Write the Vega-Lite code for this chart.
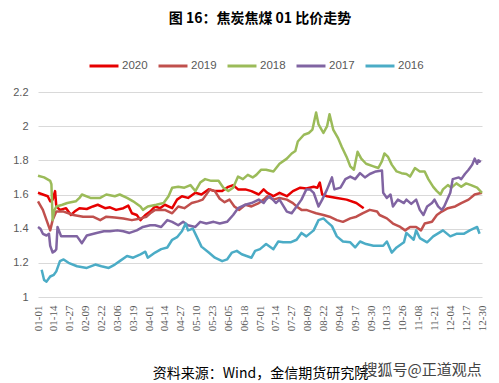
{
  "$schema": "https://vega.github.io/schema/vega-lite/v6.json",
  "width": 444,
  "height": 205,
  "autosize": {"type": "none"},
  "padding": {"left": 38, "top": 92, "right": 17, "bottom": 86},
  "background": "white",
  "title": {
    "text": "图 16：焦炭焦煤 01 比价走势",
    "font": "Noto Sans CJK SC",
    "fontSize": 14,
    "fontWeight": "bold",
    "color": "#000000",
    "anchor": "middle",
    "frame": "group",
    "offset": 24
  },
  "data": {
    "values": [
      {"s":"2020","d":0,"v":1.61},{"s":"2020","d":4,"v":1.60},{"s":"2020","d":8,"v":1.59},{"s":"2020","d":10,"v":1.56},{"s":"2020","d":12,"v":1.57},{"s":"2020","d":14,"v":1.62},{"s":"2020","d":15,"v":1.53},{"s":"2020","d":18,"v":1.51},{"s":"2020","d":23,"v":1.52},{"s":"2020","d":27,"v":1.48},{"s":"2020","d":30,"v":1.50},{"s":"2020","d":34,"v":1.52},{"s":"2020","d":40,"v":1.515},{"s":"2020","d":45,"v":1.53},{"s":"2020","d":49,"v":1.54},{"s":"2020","d":55,"v":1.52},{"s":"2020","d":59,"v":1.525},{"s":"2020","d":64,"v":1.51},{"s":"2020","d":70,"v":1.52},{"s":"2020","d":74,"v":1.535},{"s":"2020","d":77,"v":1.49},{"s":"2020","d":81,"v":1.48},{"s":"2020","d":84,"v":1.45},{"s":"2020","d":88,"v":1.48},{"s":"2020","d":92,"v":1.50},{"s":"2020","d":96,"v":1.53},{"s":"2020","d":100,"v":1.52},{"s":"2020","d":104,"v":1.54},{"s":"2020","d":110,"v":1.52},{"s":"2020","d":114,"v":1.57},{"s":"2020","d":118,"v":1.59},{"s":"2020","d":123,"v":1.58},{"s":"2020","d":129,"v":1.61},{"s":"2020","d":134,"v":1.60},{"s":"2020","d":140,"v":1.63},{"s":"2020","d":145,"v":1.62},{"s":"2020","d":151,"v":1.62},{"s":"2020","d":156,"v":1.645},{"s":"2020","d":160,"v":1.655},{"s":"2020","d":164,"v":1.63},{"s":"2020","d":170,"v":1.63},{"s":"2020","d":175,"v":1.62},{"s":"2020","d":181,"v":1.60},{"s":"2020","d":185,"v":1.63},{"s":"2020","d":188,"v":1.61},{"s":"2020","d":193,"v":1.59},{"s":"2020","d":198,"v":1.61},{"s":"2020","d":204,"v":1.59},{"s":"2020","d":209,"v":1.62},{"s":"2020","d":215,"v":1.64},{"s":"2020","d":220,"v":1.635},{"s":"2020","d":226,"v":1.645},{"s":"2020","d":229,"v":1.64},{"s":"2020","d":231,"v":1.67},{"s":"2020","d":233,"v":1.60},{"s":"2020","d":237,"v":1.59},{"s":"2020","d":245,"v":1.58},{"s":"2020","d":253,"v":1.57},{"s":"2020","d":261,"v":1.55},{"s":"2020","d":267,"v":1.52},
      {"s":"2019","d":0,"v":1.56},{"s":"2019","d":4,"v":1.51},{"s":"2019","d":7,"v":1.45},{"s":"2019","d":10,"v":1.39},{"s":"2019","d":12,"v":1.45},{"s":"2019","d":15,"v":1.50},{"s":"2019","d":21,"v":1.50},{"s":"2019","d":25,"v":1.49},{"s":"2019","d":29,"v":1.48},{"s":"2019","d":37,"v":1.47},{"s":"2019","d":45,"v":1.47},{"s":"2019","d":51,"v":1.45},{"s":"2019","d":56,"v":1.47},{"s":"2019","d":63,"v":1.465},{"s":"2019","d":70,"v":1.46},{"s":"2019","d":77,"v":1.45},{"s":"2019","d":84,"v":1.46},{"s":"2019","d":89,"v":1.47},{"s":"2019","d":92,"v":1.49},{"s":"2019","d":96,"v":1.51},{"s":"2019","d":104,"v":1.51},{"s":"2019","d":110,"v":1.49},{"s":"2019","d":115,"v":1.53},{"s":"2019","d":120,"v":1.52},{"s":"2019","d":126,"v":1.55},{"s":"2019","d":131,"v":1.56},{"s":"2019","d":135,"v":1.57},{"s":"2019","d":141,"v":1.63},{"s":"2019","d":145,"v":1.62},{"s":"2019","d":149,"v":1.575},{"s":"2019","d":153,"v":1.555},{"s":"2019","d":157,"v":1.57},{"s":"2019","d":161,"v":1.53},{"s":"2019","d":165,"v":1.51},{"s":"2019","d":170,"v":1.54},{"s":"2019","d":175,"v":1.53},{"s":"2019","d":181,"v":1.55},{"s":"2019","d":185,"v":1.57},{"s":"2019","d":188,"v":1.59},{"s":"2019","d":193,"v":1.57},{"s":"2019","d":198,"v":1.58},{"s":"2019","d":204,"v":1.57},{"s":"2019","d":209,"v":1.55},{"s":"2019","d":212,"v":1.53},{"s":"2019","d":216,"v":1.51},{"s":"2019","d":220,"v":1.51},{"s":"2019","d":224,"v":1.50},{"s":"2019","d":228,"v":1.49},{"s":"2019","d":234,"v":1.48},{"s":"2019","d":239,"v":1.47},{"s":"2019","d":245,"v":1.45},{"s":"2019","d":250,"v":1.44},{"s":"2019","d":256,"v":1.46},{"s":"2019","d":261,"v":1.47},{"s":"2019","d":266,"v":1.49},{"s":"2019","d":272,"v":1.51},{"s":"2019","d":278,"v":1.50},{"s":"2019","d":280,"v":1.48},{"s":"2019","d":286,"v":1.46},{"s":"2019","d":291,"v":1.43},{"s":"2019","d":297,"v":1.41},{"s":"2019","d":301,"v":1.39},{"s":"2019","d":305,"v":1.41},{"s":"2019","d":310,"v":1.41},{"s":"2019","d":314,"v":1.39},{"s":"2019","d":317,"v":1.43},{"s":"2019","d":323,"v":1.44},{"s":"2019","d":327,"v":1.48},{"s":"2019","d":331,"v":1.50},{"s":"2019","d":336,"v":1.52},{"s":"2019","d":342,"v":1.53},{"s":"2019","d":347,"v":1.55},{"s":"2019","d":353,"v":1.57},{"s":"2019","d":358,"v":1.60},{"s":"2019","d":364,"v":1.61},
      {"s":"2018","d":0,"v":1.71},{"s":"2018","d":5,"v":1.70},{"s":"2018","d":10,"v":1.68},{"s":"2018","d":11,"v":1.66},{"s":"2018","d":12,"v":1.45},{"s":"2018","d":13,"v":1.50},{"s":"2018","d":15,"v":1.53},{"s":"2018","d":20,"v":1.54},{"s":"2018","d":24,"v":1.55},{"s":"2018","d":31,"v":1.56},{"s":"2018","d":34,"v":1.58},{"s":"2018","d":36,"v":1.60},{"s":"2018","d":43,"v":1.58},{"s":"2018","d":51,"v":1.58},{"s":"2018","d":56,"v":1.60},{"s":"2018","d":63,"v":1.59},{"s":"2018","d":67,"v":1.60},{"s":"2018","d":73,"v":1.58},{"s":"2018","d":78,"v":1.56},{"s":"2018","d":84,"v":1.53},{"s":"2018","d":86,"v":1.51},{"s":"2018","d":90,"v":1.53},{"s":"2018","d":97,"v":1.54},{"s":"2018","d":103,"v":1.55},{"s":"2018","d":107,"v":1.59},{"s":"2018","d":110,"v":1.64},{"s":"2018","d":115,"v":1.645},{"s":"2018","d":120,"v":1.64},{"s":"2018","d":125,"v":1.655},{"s":"2018","d":129,"v":1.62},{"s":"2018","d":133,"v":1.67},{"s":"2018","d":137,"v":1.69},{"s":"2018","d":142,"v":1.68},{"s":"2018","d":148,"v":1.68},{"s":"2018","d":152,"v":1.64},{"s":"2018","d":156,"v":1.62},{"s":"2018","d":160,"v":1.64},{"s":"2018","d":164,"v":1.705},{"s":"2018","d":168,"v":1.69},{"s":"2018","d":172,"v":1.715},{"s":"2018","d":176,"v":1.70},{"s":"2018","d":179,"v":1.715},{"s":"2018","d":183,"v":1.745},{"s":"2018","d":187,"v":1.745},{"s":"2018","d":193,"v":1.735},{"s":"2018","d":198,"v":1.78},{"s":"2018","d":204,"v":1.81},{"s":"2018","d":208,"v":1.84},{"s":"2018","d":211,"v":1.855},{"s":"2018","d":213,"v":1.91},{"s":"2018","d":218,"v":1.95},{"s":"2018","d":222,"v":1.96},{"s":"2018","d":225,"v":1.98},{"s":"2018","d":228,"v":2.08},{"s":"2018","d":230,"v":2.01},{"s":"2018","d":234,"v":1.96},{"s":"2018","d":237,"v":2.00},{"s":"2018","d":239,"v":2.07},{"s":"2018","d":242,"v":1.98},{"s":"2018","d":246,"v":1.93},{"s":"2018","d":249,"v":1.88},{"s":"2018","d":253,"v":1.82},{"s":"2018","d":256,"v":1.765},{"s":"2018","d":259,"v":1.745},{"s":"2018","d":262,"v":1.85},{"s":"2018","d":265,"v":1.81},{"s":"2018","d":269,"v":1.78},{"s":"2018","d":275,"v":1.765},{"s":"2018","d":279,"v":1.755},{"s":"2018","d":282,"v":1.795},{"s":"2018","d":284,"v":1.84},{"s":"2018","d":287,"v":1.82},{"s":"2018","d":290,"v":1.775},{"s":"2018","d":294,"v":1.735},{"s":"2018","d":298,"v":1.725},{"s":"2018","d":302,"v":1.72},{"s":"2018","d":305,"v":1.705},{"s":"2018","d":309,"v":1.755},{"s":"2018","d":313,"v":1.735},{"s":"2018","d":317,"v":1.735},{"s":"2018","d":320,"v":1.69},{"s":"2018","d":324,"v":1.645},{"s":"2018","d":327,"v":1.62},{"s":"2018","d":330,"v":1.60},{"s":"2018","d":332,"v":1.63},{"s":"2018","d":336,"v":1.655},{"s":"2018","d":339,"v":1.64},{"s":"2018","d":343,"v":1.665},{"s":"2018","d":347,"v":1.645},{"s":"2018","d":351,"v":1.665},{"s":"2018","d":355,"v":1.655},{"s":"2018","d":360,"v":1.64},{"s":"2018","d":364,"v":1.61},
      {"s":"2017","d":0,"v":1.41},{"s":"2017","d":2,"v":1.40},{"s":"2017","d":4,"v":1.37},{"s":"2017","d":7,"v":1.36},{"s":"2017","d":9,"v":1.37},{"s":"2017","d":10,"v":1.30},{"s":"2017","d":12,"v":1.26},{"s":"2017","d":14,"v":1.27},{"s":"2017","d":15,"v":1.28},{"s":"2017","d":16,"v":1.41},{"s":"2017","d":19,"v":1.355},{"s":"2017","d":26,"v":1.355},{"s":"2017","d":32,"v":1.355},{"s":"2017","d":36,"v":1.315},{"s":"2017","d":40,"v":1.36},{"s":"2017","d":48,"v":1.375},{"s":"2017","d":54,"v":1.385},{"s":"2017","d":59,"v":1.385},{"s":"2017","d":65,"v":1.39},{"s":"2017","d":70,"v":1.385},{"s":"2017","d":75,"v":1.375},{"s":"2017","d":81,"v":1.39},{"s":"2017","d":86,"v":1.41},{"s":"2017","d":92,"v":1.42},{"s":"2017","d":96,"v":1.42},{"s":"2017","d":101,"v":1.41},{"s":"2017","d":106,"v":1.45},{"s":"2017","d":110,"v":1.44},{"s":"2017","d":115,"v":1.42},{"s":"2017","d":119,"v":1.44},{"s":"2017","d":123,"v":1.42},{"s":"2017","d":129,"v":1.41},{"s":"2017","d":133,"v":1.44},{"s":"2017","d":138,"v":1.43},{"s":"2017","d":144,"v":1.44},{"s":"2017","d":149,"v":1.43},{"s":"2017","d":155,"v":1.44},{"s":"2017","d":160,"v":1.48},{"s":"2017","d":164,"v":1.52},{"s":"2017","d":170,"v":1.54},{"s":"2017","d":175,"v":1.55},{"s":"2017","d":181,"v":1.57},{"s":"2017","d":185,"v":1.55},{"s":"2017","d":187,"v":1.57},{"s":"2017","d":190,"v":1.59},{"s":"2017","d":195,"v":1.55},{"s":"2017","d":198,"v":1.57},{"s":"2017","d":204,"v":1.50},{"s":"2017","d":208,"v":1.49},{"s":"2017","d":212,"v":1.53},{"s":"2017","d":216,"v":1.57},{"s":"2017","d":220,"v":1.63},{"s":"2017","d":223,"v":1.63},{"s":"2017","d":226,"v":1.61},{"s":"2017","d":230,"v":1.53},{"s":"2017","d":233,"v":1.57},{"s":"2017","d":237,"v":1.63},{"s":"2017","d":241,"v":1.70},{"s":"2017","d":243,"v":1.63},{"s":"2017","d":248,"v":1.64},{"s":"2017","d":252,"v":1.69},{"s":"2017","d":256,"v":1.705},{"s":"2017","d":260,"v":1.69},{"s":"2017","d":264,"v":1.725},{"s":"2017","d":268,"v":1.70},{"s":"2017","d":272,"v":1.72},{"s":"2017","d":277,"v":1.735},{"s":"2017","d":282,"v":1.74},{"s":"2017","d":283,"v":1.61},{"s":"2017","d":286,"v":1.58},{"s":"2017","d":289,"v":1.60},{"s":"2017","d":291,"v":1.53},{"s":"2017","d":295,"v":1.57},{"s":"2017","d":300,"v":1.55},{"s":"2017","d":302,"v":1.57},{"s":"2017","d":306,"v":1.545},{"s":"2017","d":310,"v":1.57},{"s":"2017","d":313,"v":1.51},{"s":"2017","d":316,"v":1.48},{"s":"2017","d":319,"v":1.53},{"s":"2017","d":323,"v":1.55},{"s":"2017","d":325,"v":1.57},{"s":"2017","d":328,"v":1.53},{"s":"2017","d":331,"v":1.51},{"s":"2017","d":333,"v":1.53},{"s":"2017","d":338,"v":1.61},{"s":"2017","d":340,"v":1.69},{"s":"2017","d":345,"v":1.70},{"s":"2017","d":347,"v":1.69},{"s":"2017","d":350,"v":1.72},{"s":"2017","d":353,"v":1.745},{"s":"2017","d":356,"v":1.775},{"s":"2017","d":358,"v":1.81},{"s":"2017","d":360,"v":1.78},{"s":"2017","d":361,"v":1.80},{"s":"2017","d":363,"v":1.79},
      {"s":"2016","d":3,"v":1.16},{"s":"2016","d":5,"v":1.10},{"s":"2016","d":7,"v":1.09},{"s":"2016","d":10,"v":1.12},{"s":"2016","d":13,"v":1.13},{"s":"2016","d":15,"v":1.15},{"s":"2016","d":18,"v":1.21},{"s":"2016","d":21,"v":1.22},{"s":"2016","d":25,"v":1.20},{"s":"2016","d":32,"v":1.18},{"s":"2016","d":40,"v":1.17},{"s":"2016","d":47,"v":1.19},{"s":"2016","d":52,"v":1.18},{"s":"2016","d":58,"v":1.17},{"s":"2016","d":63,"v":1.19},{"s":"2016","d":67,"v":1.21},{"s":"2016","d":73,"v":1.24},{"s":"2016","d":78,"v":1.23},{"s":"2016","d":84,"v":1.25},{"s":"2016","d":88,"v":1.265},{"s":"2016","d":90,"v":1.23},{"s":"2016","d":92,"v":1.24},{"s":"2016","d":96,"v":1.26},{"s":"2016","d":101,"v":1.28},{"s":"2016","d":106,"v":1.29},{"s":"2016","d":110,"v":1.335},{"s":"2016","d":114,"v":1.35},{"s":"2016","d":118,"v":1.385},{"s":"2016","d":121,"v":1.43},{"s":"2016","d":123,"v":1.39},{"s":"2016","d":127,"v":1.40},{"s":"2016","d":130,"v":1.355},{"s":"2016","d":134,"v":1.295},{"s":"2016","d":140,"v":1.26},{"s":"2016","d":145,"v":1.23},{"s":"2016","d":151,"v":1.21},{"s":"2016","d":155,"v":1.22},{"s":"2016","d":159,"v":1.26},{"s":"2016","d":163,"v":1.27},{"s":"2016","d":167,"v":1.25},{"s":"2016","d":171,"v":1.24},{"s":"2016","d":175,"v":1.23},{"s":"2016","d":178,"v":1.27},{"s":"2016","d":182,"v":1.28},{"s":"2016","d":187,"v":1.31},{"s":"2016","d":193,"v":1.28},{"s":"2016","d":197,"v":1.325},{"s":"2016","d":201,"v":1.32},{"s":"2016","d":207,"v":1.32},{"s":"2016","d":212,"v":1.335},{"s":"2016","d":216,"v":1.375},{"s":"2016","d":220,"v":1.355},{"s":"2016","d":226,"v":1.39},{"s":"2016","d":230,"v":1.45},{"s":"2016","d":234,"v":1.46},{"s":"2016","d":237,"v":1.44},{"s":"2016","d":241,"v":1.415},{"s":"2016","d":245,"v":1.355},{"s":"2016","d":250,"v":1.325},{"s":"2016","d":256,"v":1.32},{"s":"2016","d":260,"v":1.29},{"s":"2016","d":264,"v":1.325},{"s":"2016","d":269,"v":1.31},{"s":"2016","d":275,"v":1.30},{"s":"2016","d":283,"v":1.30},{"s":"2016","d":286,"v":1.325},{"s":"2016","d":290,"v":1.26},{"s":"2016","d":294,"v":1.29},{"s":"2016","d":300,"v":1.32},{"s":"2016","d":302,"v":1.375},{"s":"2016","d":308,"v":1.335},{"s":"2016","d":310,"v":1.39},{"s":"2016","d":313,"v":1.345},{"s":"2016","d":319,"v":1.32},{"s":"2016","d":324,"v":1.355},{"s":"2016","d":332,"v":1.39},{"s":"2016","d":338,"v":1.355},{"s":"2016","d":343,"v":1.37},{"s":"2016","d":349,"v":1.37},{"s":"2016","d":354,"v":1.39},{"s":"2016","d":360,"v":1.41},{"s":"2016","d":362,"v":1.37}
    ]
  },
  "mark": {"type": "line", "strokeWidth": 2.5, "strokeJoin": "round"},
  "encoding": {
    "x": {
      "field": "d",
      "type": "quantitative",
      "scale": {"domain": [0, 364], "nice": false, "zero": false},
      "axis": {
        "values": [0,13,26,39,52,65,78,91,104,117,130,143,156,169,182,195,208,221,234,247,260,273,286,299,312,325,338,351,364],
        "labelExpr": "timeFormat(datetime(2020, 0, 1 + datum.value), '%m-%d')",
        "labelAngle": -90,
        "labelAlign": "right",
        "labelBaseline": "middle",
        "labelFont": "Liberation Serif",
        "labelFontSize": 11,
        "labelColor": "#595959",
        "labelPadding": 8,
        "labelOverlap": false,
        "labelFlush": false,
        "grid": false,
        "domain": false,
        "ticks": false,
        "title": "资料来源：Wind，金信期货研究院",
        "titleFont": "Noto Sans CJK SC",
        "titleFontSize": 14,
        "titleFontWeight": "normal",
        "titleColor": "#000000",
        "titlePadding": 36
      }
    },
    "y": {
      "field": "v",
      "type": "quantitative",
      "scale": {"domain": [1, 2.2], "nice": false, "zero": false},
      "axis": {
        "values": [1, 1.2, 1.4, 1.6, 1.8, 2, 2.2],
        "format": "~g",
        "labelFont": "Liberation Sans",
        "labelFontSize": 11,
        "labelColor": "#595959",
        "labelPadding": 10,
        "grid": true,
        "gridColor": "#d9d9d9",
        "gridWidth": 1,
        "domain": false,
        "ticks": false,
        "title": "搜狐号@正道观点",
        "titleAngle": 0,
        "titleX": 324,
        "titleY": 277,
        "titleAlign": "left",
        "titleBaseline": "middle",
        "titleFont": "Noto Sans CJK SC",
        "titleFontSize": 15,
        "titleFontWeight": "normal",
        "titleColor": "#444444"
      }
    },
    "color": {
      "field": "s",
      "type": "nominal",
      "sort": ["2020", "2019", "2018", "2017", "2016"],
      "scale": {
        "domain": ["2020", "2019", "2018", "2017", "2016"],
        "range": ["#e60000", "#c0504d", "#9bbb59", "#8064a2", "#4bacc6"]
      },
      "legend": {
        "title": null,
        "orient": "none",
        "direction": "horizontal",
        "legendX": 50,
        "legendY": -42,
        "symbolType": "stroke",
        "symbolSize": 840,
        "symbolStrokeWidth": 3,
        "labelFont": "Liberation Sans",
        "labelFontSize": 11.5,
        "labelColor": "#595959",
        "labelOffset": 2,
        "columnPadding": 4
      }
    }
  },
  "config": {"view": {"stroke": null}}
}
